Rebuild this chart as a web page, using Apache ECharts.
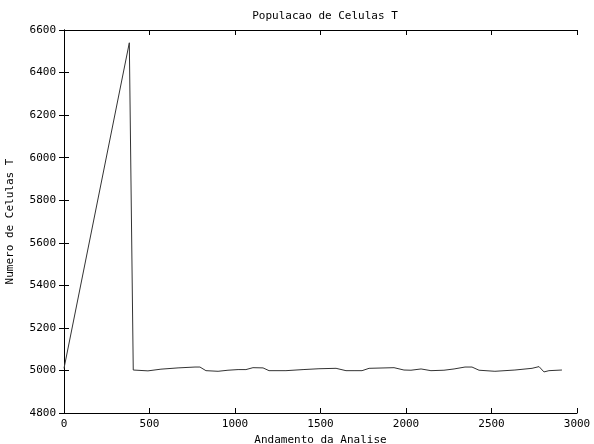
<!DOCTYPE html>
<html>
<head>
<meta charset="utf-8">
<script src="https://cdn.jsdelivr.net/npm/echarts@6/dist/echarts.min.js"></script>
<style>
html,body{margin:0;padding:0;background:#fff;}
#chart{width:594px;height:444px;}
</style>
</head>
<body>
<div id="chart"></div>
<script>
var titleText = "Populacao de Celulas T";
var xName = "Andamento da Analise";
var yName = "Numero de Celulas T";
var xValues = [0, 382, 405, 491, 567, 667, 766, 795, 830, 901, 959, 1018, 1064, 1105, 1164, 1199, 1298, 1398, 1491, 1591, 1649, 1696, 1743, 1784, 1930, 1988, 2029, 2088, 2146, 2222, 2281, 2345, 2386, 2427, 2520, 2637, 2737, 2778, 2807, 2836, 2912];
var yValues = [5010, 6540, 5002, 4998, 5006, 5012, 5016, 5016, 4999, 4996, 5001, 5004, 5004, 5013, 5012, 4999, 4999, 5004, 5008, 5010, 4999, 4999, 4999, 5010, 5013, 5002, 5001, 5007, 4999, 5001, 5007, 5016, 5016, 5001, 4996, 5002, 5010, 5018, 4993, 4999, 5002];
var xTicks = [0, 500, 1000, 1500, 2000, 2500, 3000];
var yTicks = [4800, 5000, 5200, 5400, 5600, 5800, 6000, 6200, 6400, 6600];

var data = xValues.map(function (x, i) { return [x, yValues[i]]; });
var font = 'DejaVu Sans Mono';
var txt = {color: '#000', fontFamily: font, fontSize: 11};
var axisLine = {show: true, lineStyle: {color: '#000', width: 1}};
var tick = {show: true, inside: true, length: 5, lineStyle: {color: '#000', width: 1}};
var plain = function (v) { return String(v); };

var chart = echarts.init(document.getElementById('chart'), null, {renderer: 'canvas'});
chart.setOption({
  animation: false,
  backgroundColor: '#fff',
  title: {text: titleText, left: 320, top: 6, textAlign: 'center',
    textStyle: {color: '#000', fontFamily: font, fontSize: 11, fontWeight: 'normal'}},
  grid: {left: 64, right: 17, top: 30, bottom: 31, containLabel: false, outerBoundsMode: 'none'},
  xAxis: [
    {type: 'value', min: xTicks[0], max: xTicks[xTicks.length-1], interval: 500,
     name: xName, nameLocation: 'middle', nameGap: 19, nameTextStyle: txt,
     axisLine: axisLine, axisTick: tick, splitLine: {show: false},
     axisLabel: Object.assign({margin: 6, formatter: plain}, txt)},
    {type: 'value', position: 'top', min: xTicks[0], max: xTicks[xTicks.length-1], interval: 500,
     axisLine: axisLine, axisTick: tick, splitLine: {show: false}, axisLabel: {show: false}}
  ],
  yAxis: [
    {type: 'value', min: yTicks[0], max: yTicks[yTicks.length-1], interval: 200,
     name: yName, nameLocation: 'middle', nameGap: 48, nameTextStyle: txt,
     axisLine: axisLine, axisTick: tick, splitLine: {show: false},
     axisLabel: Object.assign({margin: 8, formatter: plain}, txt)},
    {type: 'value', position: 'right', min: yTicks[0], max: yTicks[yTicks.length-1], interval: 200,
     axisLine: axisLine, axisTick: tick, splitLine: {show: false}, axisLabel: {show: false}}
  ],
  series: [{
    type: 'line', data: data, showSymbol: false, symbol: 'none',
    lineStyle: {color: '#333', width: 1}, xAxisIndex: 0, yAxisIndex: 0
  }]
});
</script>
</body>
</html>
